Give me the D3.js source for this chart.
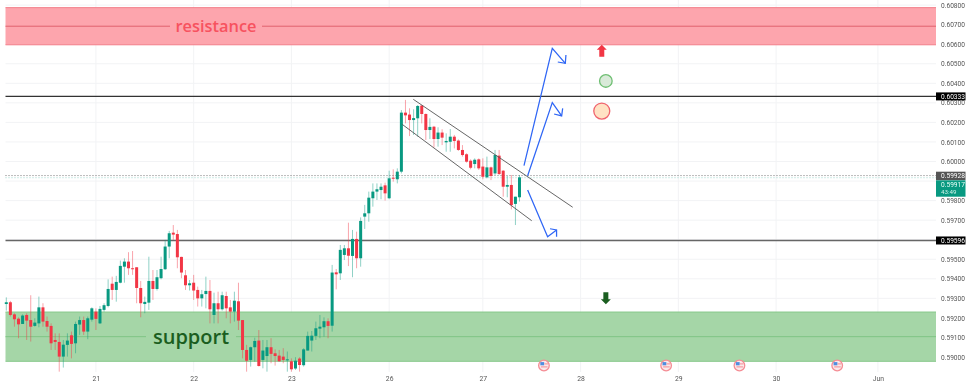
<!DOCTYPE html>
<html>
<head>
<meta charset="utf-8">
<script src="https://cdn.jsdelivr.net/npm/d3@7"></script>
<style>
    html, body { margin: 0; padding: 0; background: #fff; overflow: hidden; }
    svg { display: block; filter: blur(0.45px); }
    text { font-family: Roboto, sans-serif; }
    .domain { display: none; }
</style>
</head>
<body>
<div id="chart"></div>
<script>
// Hourly candles
var opens = [.59271,.59280,.59218,.59196,.59169,.59215,.59189,.59159,.59172,.59254,.59184,.59159,.59087,.59077,.59002,.59062,.59111,.59070,.59166,.59189,.59130,.59191,.59232,.59172,.59241,.59261,.59375,.59343,.59380,.59462,.59488,.59454,.59459,.59353,.59271,.59278,.59389,.59348,.59403,.59449,.59565,.59636,.59629,.59512,.59418,.59367,.59380,.59343,
    .59300,.59322,.59338,.59215,.59275,.59244,.59312,.59254,.59232,.59285,.59189,.59036,.58985,.59050,.59084,.58985,.59005,.59050,.59019,.59007,.59002,.58983,.58978,.58941,.58992,.58958,.59033,.59084,.59108,.59145,.59152,.59183,
    .59160,.59433,.59428,.59522,.59556,.59517,.59604,.59505,.59718,.59735,.59812,.59846,.59854,.59878,.59812,.59917,.59909,
    .59948,.60250,.60240,.60212,.60221,.60286,.60243,.60161,.60178,.60115,.60148,.60098,.60101,.60127,.60107,.60059,.60037,.60004,.59987,.60011,.59974,.59919,.59970,.59939,.60030,.59953,.59871,.59880,.59783,.59817];
var highs = [.59305,.59287,.59224,.59203,.59218,.59224,.59316,.59198,.59309,.59275,.59207,.59172,.59121,.59121,.59087,.59121,.59130,.59181,.59207,.59207,.59207,.59254,.59249,.59261,.59275,.59397,.59411,.59415,.59493,.59505,.59536,.59542,.59459,.59389,.59309,.59513,.59445,.59445,.59513,.59599,.59645,.59675,.59650,.59513,.59445,.59394,.59420,.59360,
    .59343,.59411,.59394,.59329,.59334,.59334,.59334,.59292,.59334,.59380,.59189,.59062,.59053,.59099,.59138,.59087,.59087,.59096,.59039,.59036,.59045,.59028,.58993,.58999,.58999,.59045,.59130,.59133,.59181,.59215,.59203,.59198,
    .59471,.59450,.59573,.59573,.59687,.59650,.59641,.59714,.59778,.59846,.59888,.59888,.59888,.59892,.59953,.59960,.59965,
    .60263,.60315,.60272,.60267,.60289,.60289,.60246,.60221,.60182,.60175,.60165,.60144,.60166,.60136,.60113,.60084,.60042,.60011,.60016,.60016,.60016,.60025,.59974,.60059,.60059,.59956,.59926,.59931,.59820,.59931];
var lows = [.59237,.59207,.59155,.59096,.59169,.59087,.59079,.59155,.59152,.59155,.59130,.59036,.59036,.58925,.58946,.59002,.58993,.59019,.59113,.59113,.59091,.59181,.59138,.59169,.59232,.59254,.59292,.59283,.59377,.59380,.59420,.59420,.59275,.59203,.59224,.59241,.59292,.59340,.59397,.59445,.59505,.59599,.59454,.59403,.59343,.59340,.59292,.59258,
    .59258,.59249,.59172,.59172,.59172,.59237,.59198,.59172,.59181,.59138,.58993,.58925,.58951,.58976,.58951,.58942,.58925,.58968,.58956,.58976,.58968,.58925,.58925,.58934,.58925,.58951,.59033,.59028,.59087,.59096,.59104,.59096,
    .59130,.59346,.59394,.59496,.59465,.59408,.59454,.59462,.59655,.59692,.59769,.59803,.59807,.59800,.59807,.59897,.59888,
    .59939,.60195,.60130,.60136,.60127,.60195,.60110,.60115,.60072,.60076,.60084,.60050,.60050,.60067,.60054,.60025,.59994,.59960,.59965,.59957,.59909,.59914,.59905,.59931,.59931,.59820,.59817,.59755,.59675,.59795];
var closes = [.59280,.59215,.59193,.59167,.59212,.59186,.59155,.59176,.59254,.59181,.59155,.59070,.59077,.59002,.59063,.59084,.59067,.59169,.59189,.59130,.59198,.59249,.59195,.59246,.59265,.59348,.59343,.59384,.59466,.59488,.59454,.59450,.59353,.59275,.59282,.59389,.59348,.59408,.59450,.59565,.59633,.59626,.59510,.59432,.59367,.59377,.59340,.59300,
    .59321,.59338,.59244,.59275,.59244,.59316,.59249,.59232,.59288,.59186,.59036,.58981,.59050,.59082,.58954,.59033,.59050,.59016,.59005,.58978,.58985,.58988,.58937,.58981,.58959,.59039,.59108,.59109,.59147,.59155,.59183,.59159,
    .59432,.59423,.59548,.59556,.59518,.59604,.59505,.59696,.59735,.59815,.59846,.59858,.59871,.59837,.59914,.59914,.59948,
    .60250,.60236,.60212,.60222,.60284,.60243,.60161,.60177,.60115,.60148,.60122,.60105,.60127,.60105,.60059,.60033,.59999,.59968,.60009,.59965,.59922,.59970,.59926,.60033,.59936,.59871,.59880,.59777,.59820,.59919];

// Axis ticks
var priceTicks = [.608,.607,.606,.605,.604,.603,.602,.601,.600,.599,.598,.597,.596,.595,.594,.593,.592,.591,.590];
var dayLabels = ["21","22","23","26","27","28","29","30","Jun"];
var dayIndex = [22,46,70,94,117,141,165,189,214]; // candle index of each label

// Zones and levels
var resistanceZone = [.60787,.60692,.60597];
var supportZone = [.59230,.59104,.58978];
var levels = [.60333,.59596];
var prevClose = .59928;
var lastPrice = .59917;
var countdown = "43:49";

// Drawings, [candle index, price]
var channelUpper = [[99.93,.60318],[139.06,.59766]];
var channelLower = [[97.2,.60190],[129.0,.59697]];
var arrowUpHigh = [[127.1,.59979],[134.05,.60579],[137.25,.60502]];
var arrowUpHighHead = [[137.4,.60545],[137.25,.60502],[135.4,.60509]];
var arrowUpLow = [[128.0,.59927],[134.05,.60301],[136.35,.60233]];
var arrowUpLowHead = [[136.6,.60272],[136.35,.60233],[134.5,.60243]];
var arrowDown = [[128.0,.59854],[132.9,.59615],[135.1,.59650]];
var arrowDownHead = [[133.5,.59656],[135.1,.59650],[135.1,.59615]];
var redArrowAt = [146.2,.60566];
var greenArrowAt = [147.2,.59300];
var greenDotAt = [147.2,.60412];
var redDotAt = [146.2,.60258];
var eventIndex = [132,162,180,204];

var width = 974, height = 387;
var plotLeft = 5.5, plotRight = 936, plotBottom = 372;

// Scales
var xScale = d3.scaleLinear().domain([0, 126]).range([6.3, 519.5]);
var yScale = d3.scaleLinear().domain([.60, .59]).range([161.5, 357]);

var svg = d3.select("#chart").append("svg")
    .attr("width", width)
    .attr("height", height)
    .attr("viewBox", "0 0 " + width + " " + height);

// Grid
svg.append("g").selectAll("line")
    .data(priceTicks)
    .enter().append("line")
    .attr("x1", plotLeft).attr("x2", plotRight)
    .attr("y1", function (d) { return yScale(d); })
    .attr("y2", function (d) { return yScale(d); })
    .attr("stroke", "#f2f3f5");
svg.append("g").selectAll("line")
    .data(dayIndex)
    .enter().append("line")
    .attr("x1", function (d) { return xScale(d); })
    .attr("x2", function (d) { return xScale(d); })
    .attr("y1", 0).attr("y2", plotBottom)
    .attr("stroke", "#f2f3f5");

// Zones with a middle line broken around the label
function drawZone(zone, fill, edge, mid, label, labelColor, labelX, gap, size) {
    var g = svg.append("g");
    g.append("rect")
        .attr("x", plotLeft)
        .attr("y", yScale(zone[0]))
        .attr("width", plotRight - plotLeft)
        .attr("height", yScale(zone[2]) - yScale(zone[0]))
        .attr("fill", fill);
    [zone[0], zone[2]].forEach(function (p) {
        g.append("line")
            .attr("x1", plotLeft).attr("x2", plotRight)
            .attr("y1", yScale(p)).attr("y2", yScale(p))
            .attr("stroke", edge);
    });
    [[plotLeft, labelX - gap], [labelX + gap, plotRight]].forEach(function (seg) {
        g.append("line")
            .attr("x1", seg[0]).attr("x2", seg[1])
            .attr("y1", yScale(zone[1])).attr("y2", yScale(zone[1]))
            .attr("stroke", mid);
    });
    g.append("text")
        .attr("x", labelX)
        .attr("y", yScale(zone[1]))
        .attr("dy", "0.35em")
        .attr("text-anchor", "middle")
        .attr("fill", labelColor)
        .style("font-family", "'Open Sans', sans-serif")
        .style("font-size", size + "px")
        .style("font-weight", 600)
        .text(label);
}
drawZone(resistanceZone, "#fda5ad", "#f37f8b", "#e0626d", "resistance", "#f7525f", 216, 46, 16.4);
drawZone(supportZone, "#a5d6a7", "#86c78a", "#7fc485", "support", "#1b5e20", 191, 45, 20);

// Horizontal levels
svg.append("g").selectAll("line")
    .data(levels)
    .enter().append("line")
    .attr("x1", plotLeft).attr("x2", plotRight)
    .attr("y1", function (d) { return yScale(d); })
    .attr("y2", function (d) { return yScale(d); })
    .attr("stroke", function (d, i) { return i == 0 ? "#333" : "#666"; })
    .attr("stroke-width", 1.4);
svg.append("line")
    .attr("x1", plotLeft).attr("x2", plotRight)
    .attr("y1", yScale(prevClose)).attr("y2", yScale(prevClose))
    .attr("stroke", "#777").attr("stroke-dasharray", "1,2");
svg.append("line")
    .attr("x1", plotLeft).attr("x2", plotRight)
    .attr("y1", yScale(lastPrice)).attr("y2", yScale(lastPrice))
    .attr("stroke", "#9fd8cd").attr("stroke-dasharray", "1,2");

// Candles
var candles = opens.map(function (o, i) {
    return { i: i, o: o, h: highs[i], l: lows[i], c: closes[i] };
});
function candleColor(d) { return d.c >= d.o ? "#089981" : "#f23645"; }

var candleG = svg.append("g").attr("class", "candles");
candleG.selectAll("line")
    .data(candles)
    .enter().append("line")
    .attr("x1", function (d) { return xScale(d.i); })
    .attr("x2", function (d) { return xScale(d.i); })
    .attr("y1", function (d) { return yScale(d.h); })
    .attr("y2", function (d) { return yScale(d.l); })
    .attr("stroke", candleColor)
    .attr("stroke-opacity", 0.45);
candleG.selectAll("rect")
    .data(candles)
    .enter().append("rect")
    .attr("x", function (d) { return xScale(d.i) - 1.5; })
    .attr("y", function (d) { return yScale(Math.max(d.o, d.c)); })
    .attr("width", 3)
    .attr("height", function (d) { return Math.max(1, Math.abs(yScale(d.o) - yScale(d.c))); })
    .attr("fill", candleColor);

// Channel and arrows
var line = d3.line()
    .x(function (d) { return xScale(d[0]); })
    .y(function (d) { return yScale(d[1]); });
[channelUpper, channelLower].forEach(function (pts) {
    svg.append("path").attr("d", line(pts))
        .attr("fill", "none").attr("stroke", "#555").attr("stroke-width", 0.9);
});
[arrowUpHigh, arrowUpHighHead, arrowUpLow, arrowUpLowHead, arrowDown, arrowDownHead].forEach(function (pts) {
    svg.append("path").attr("d", line(pts))
        .attr("fill", "none").attr("stroke", "#2f66f5").attr("stroke-width", 1.25);
});

// Block arrows and dots
var upArrowShape = [[0,-6],[5,-1],[2.5,-1],[2.5,6],[-2.5,6],[-2.5,-1],[-5,-1]];
function drawBlockArrow(at, flip, color) {
    svg.append("path")
        .attr("d", d3.line()(upArrowShape) + "Z")
        .attr("transform", "translate(" + xScale(at[0]) + "," + yScale(at[1]) + ") scale(1," + flip + ")")
        .attr("fill", color);
}
drawBlockArrow(redArrowAt, 1, "#f23645");
drawBlockArrow(greenArrowAt, -1, "#1b5e20");

svg.append("circle")
    .attr("cx", xScale(greenDotAt[0])).attr("cy", yScale(greenDotAt[1])).attr("r", 6.3)
    .attr("fill", "#d9ead9").attr("stroke", "#6fbf73").attr("stroke-width", 1.3);
svg.append("circle")
    .attr("cx", xScale(redDotAt[0])).attr("cy", yScale(redDotAt[1])).attr("r", 8)
    .attr("fill", "#ffe2c4").attr("stroke", "#f0646e").attr("stroke-width", 1.3);

// Economic event flags
var flagG = svg.append("g").selectAll("g")
    .data(eventIndex)
    .enter().append("g")
    .attr("transform", function (d) { return "translate(" + xScale(d) + ",365.5)"; });
flagG.append("circle").attr("r", 5.3).attr("fill", "#fbe9ea").attr("stroke", "#f58d95").attr("stroke-width", 1.3);
flagG.append("rect").attr("x", -3.6).attr("y", -3.4).attr("width", 3.8).attr("height", 3.2).attr("fill", "#4f8de0");
flagG.append("line").attr("x1", -3).attr("x2", 3.6).attr("y1", 1.4).attr("y2", 1.4).attr("stroke", "#f58d95");
flagG.append("line").attr("x1", 0.5).attr("x2", 4).attr("y1", -1.6).attr("y2", -1.6).attr("stroke", "#f58d95");

// Axes, the label at 0.59900 sits under the price boxes in the reference so it is left out
var yAxis = d3.axisRight(yScale)
    .tickValues(priceTicks.filter(function (d) { return d != .599; }))
    .tickFormat(d3.format(".5f"))
    .tickSize(0)
    .tickPadding(0);
svg.append("g")
    .attr("class", "y-axis")
    .attr("transform", "translate(941,0)")
    .call(yAxis)
    .selectAll("text")
    .attr("fill", "#555")
    .style("font-size", "6.6px");

var xAxis = d3.axisBottom(xScale)
    .tickValues(dayIndex)
    .tickFormat(function (d, i) { return dayLabels[i]; })
    .tickSize(0)
    .tickPadding(0);
svg.append("g")
    .attr("class", "x-axis")
    .attr("transform", "translate(0,376.5)")
    .call(xAxis)
    .selectAll("text")
    .attr("fill", "#555")
    .style("font-size", "6.8px");

// Price boxes on the right, top is the box top in px
function priceLabel(p, top, h, color, textColor) {
    svg.append("rect")
        .attr("x", 936).attr("y", top).attr("width", 29.5).attr("height", h)
        .attr("fill", color);
    svg.append("text")
        .attr("x", 941).attr("y", top + 4.2).attr("dy", "0.35em")
        .attr("fill", textColor)
        .style("font-size", "6.6px")
        .text(d3.format(".5f")(p));
}
priceLabel(levels[0], yScale(levels[0]) - 4, 8, "#000", "#fff");
priceLabel(levels[1], yScale(levels[1]) - 4, 8, "#000", "#fff");
priceLabel(prevClose, 171.7, 8.5, "#555", "#fff");
priceLabel(lastPrice, 180.3, 16.4, "#089981", "#e8fff8");
svg.append("text")
    .attr("x", 941).attr("y", 192.3)
    .attr("dy", "0.35em")
    .attr("fill", "#d5f5ec")
    .style("font-size", "6.2px")
    .text(countdown);
</script>
</body>
</html>
